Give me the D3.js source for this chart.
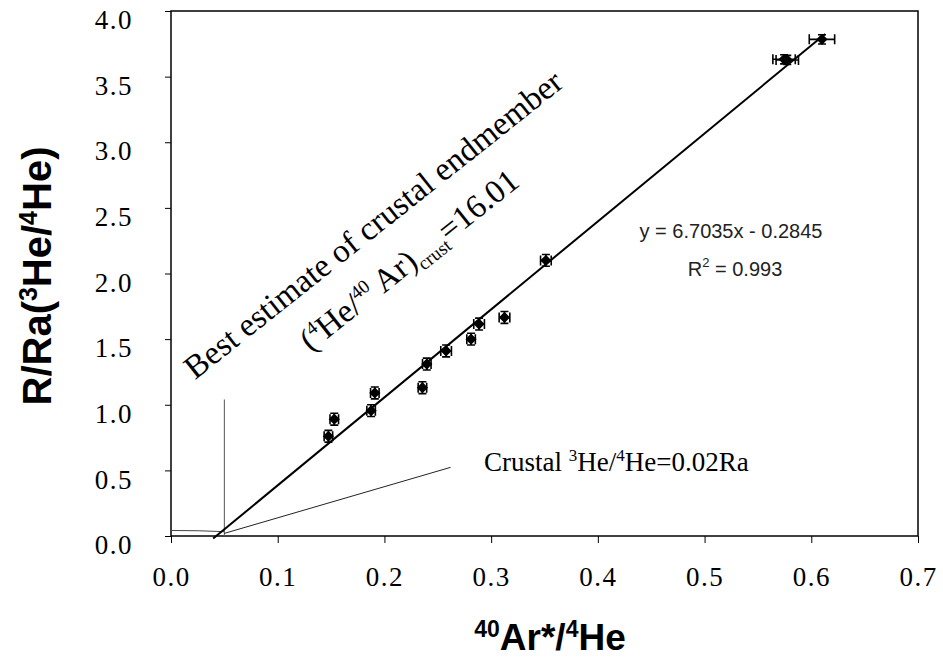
<!DOCTYPE html>
<html>
<head>
<meta charset="utf-8">
<script src="https://cdn.jsdelivr.net/npm/d3@7"></script>
<style>
  body { margin: 0; background: #fff; }
  svg { display: block; }
</style>
</head>
<body>
<svg id="chart"></svg>
<script>
// samples
const xVals = [0.1475, 0.153, 0.1875, 0.191, 0.2356, 0.2397, 0.2578, 0.2812, 0.2887, 0.3125, 0.3513, 0.5745, 0.5775, 0.610];
const yVals = [0.76, 0.89, 0.955, 1.09, 1.13, 1.31, 1.41, 1.50, 1.615, 1.665, 2.10, 3.632, 3.627, 3.784];
const xErr  = [0.004, 0.004, 0.004, 0.004, 0.004, 0.004, 0.005, 0.004, 0.005, 0.005, 0.005, 0.0105, 0.0105, 0.0119];
const yErr  = [0.045, 0.045, 0.045, 0.045, 0.045, 0.045, 0.045, 0.045, 0.045, 0.045, 0.045, 0.035, 0.035, 0.035];

const xTicks = [0, 0.1, 0.2, 0.3, 0.4, 0.5, 0.6, 0.7];
const yTicks = [0, 0.5, 1.0, 1.5, 2.0, 2.5, 3.0, 3.5, 4.0];

// fitted line y = 6.7035x - 0.2845, drawn between these x values
const fitSlope = 6.7035, fitIntercept = -0.2845;
const fitRange = [0.0395, 0.613];

// helper lines
const endmemberLine = [[0.05, 0], [0.05, 1.04]];
const leftLine = [[0, 0.042], [0.026, 0.04], [0.05, 0.033]];
const crustalLine = [[0.05, 0.02], [0.262, 0.523]];

const width = 943, height = 657;
const margin = {left: 171, right: 25, top: 11, bottom: 121};

const svg = d3.select("#chart").attr("width", width).attr("height", height);

const x = d3.scaleLinear().domain([0, 0.7]).range([margin.left, width - margin.right]);
const y = d3.scaleLinear().domain([0, 4]).range([height - margin.bottom, margin.top]);

// plot frame
svg.append("rect")
    .attr("x", x(0)).attr("y", y(4))
    .attr("width", x(0.7) - x(0)).attr("height", y(0) - y(4))
    .attr("fill", "none").attr("stroke", "#000").attr("stroke-width", 1.5);

const serif = "Liberation Serif, Times New Roman, serif";
const sans = "Liberation Sans, Arial, sans-serif";

const xAxis = svg.append("g")
    .attr("transform", `translate(0,${y(0)})`)
    .call(d3.axisBottom(x).tickValues(xTicks).tickFormat(d3.format(".1f")).tickSize(7).tickPadding(24));
xAxis.select(".domain").remove();
xAxis.selectAll("text")
    .attr("font-family", serif).attr("letter-spacing", 1.5)
    .attr("font-size", 27).attr("fill", "#000");

const yAxis = svg.append("g")
    .attr("transform", `translate(${x(0)},0)`)
    .call(d3.axisLeft(y).tickValues(yTicks).tickFormat(d3.format(".1f")).tickSize(6).tickPadding(32));
yAxis.select(".domain").remove();
yAxis.selectAll("text")
    .attr("y", 9).attr("letter-spacing", 1.5)
    .attr("font-family", serif)
    .attr("font-size", 27).attr("fill", "#000");

const line = d3.line().x(d => x(d[0])).y(d => y(d[1]));

svg.append("path").datum(endmemberLine).attr("d", line)
    .attr("fill", "none").attr("stroke", "#555").attr("stroke-width", 1);
svg.append("path").datum(leftLine).attr("d", line)
    .attr("fill", "none").attr("stroke", "#444").attr("stroke-width", 1);
svg.append("path").datum(crustalLine).attr("d", line)
    .attr("fill", "none").attr("stroke", "#222").attr("stroke-width", 1);

svg.append("path")
    .datum(fitRange.map(v => [v, fitSlope * v + fitIntercept]))
    .attr("d", line)
    .attr("fill", "none").attr("stroke", "#000").attr("stroke-width", 2);

// points with error bars
const pts = xVals.map((v, i) => ({x: v, y: yVals[i], ex: xErr[i], ey: yErr[i]}));
const pg = svg.append("g").attr("stroke", "#000").attr("stroke-width", 1.6);
pts.forEach(d => {
  const cx = x(d.x), cy = y(d.y);
  const x0 = x(d.x - d.ex), x1 = x(d.x + d.ex);
  const y0 = y(d.y - d.ey), y1 = y(d.y + d.ey);
  pg.append("path").attr("d", `M${x0},${cy}H${x1}M${x0},${cy - 5}V${cy + 5}M${x1},${cy - 5}V${cy + 5}`);
  pg.append("path").attr("d", `M${cx},${y0}V${y1}M${cx - 4},${y0}H${cx + 4}M${cx - 4},${y1}H${cx + 4}`);
});
svg.append("g").selectAll("path").data(pts).join("path")
    .attr("transform", d => `translate(${x(d.x)},${y(d.y)})`)
    .attr("d", d3.symbol(d3.symbolDiamond2, 80))
    .attr("fill", "#000");

// rotated annotation
const ann = svg.append("g")
    .attr("transform", "translate(380,233) rotate(-38.5)")
    .attr("font-family", serif)
    .attr("font-size", 33).attr("fill", "#000")
    .attr("text-anchor", "middle");
ann.append("text").text("Best estimate of crustal endmember");
const a2 = ann.append("text").attr("x", 6).attr("y", 50);
a2.append("tspan").text("(");
a2.append("tspan").attr("font-size", 19).attr("dy", -12).text("4");
a2.append("tspan").attr("dy", 12).text("He/");
a2.append("tspan").attr("font-size", 19).attr("dy", -12).text("40");
a2.append("tspan").attr("dy", 12).text(" Ar)");
a2.append("tspan").attr("font-size", 19).attr("dy", 7).text("crust");
a2.append("tspan").attr("dy", -7).text("=16.01");

// crustal label
const ct = svg.append("text")
    .attr("x", 484).attr("y", 471)
    .attr("font-family", serif)
    .attr("font-size", 27).attr("fill", "#000");
ct.append("tspan").text("Crustal ");
ct.append("tspan").attr("font-size", 17).attr("dy", -10).text("3");
ct.append("tspan").attr("dy", 10).text("He/");
ct.append("tspan").attr("font-size", 17).attr("dy", -10).text("4");
ct.append("tspan").attr("dy", 10).text("He=0.02Ra");

// regression equation
const eq = svg.append("g")
    .attr("font-family", sans)
    .attr("font-size", 20).attr("fill", "#222")
    .attr("text-anchor", "middle");
eq.append("text").attr("x", 731).attr("y", 238).text("y = 6.7035x - 0.2845");
const r2 = eq.append("text").attr("x", 735).attr("y", 276);
r2.append("tspan").text("R");
r2.append("tspan").attr("font-size", 13).attr("dy", -9).text("2");
r2.append("tspan").attr("dy", 9).text(" = 0.993");

// axis titles
const xt = svg.append("text")
    .attr("x", 550).attr("y", 650)
    .attr("text-anchor", "middle")
    .attr("font-family", sans)
    .attr("font-weight", "bold").attr("font-size", 37).attr("fill", "#000");
xt.append("tspan").attr("font-size", 23).attr("dy", -13).text("40");
xt.append("tspan").attr("dy", 13).text("Ar*/");
xt.append("tspan").attr("font-size", 23).attr("dy", -13).text("4");
xt.append("tspan").attr("dy", 13).text("He");

const yt = svg.append("text")
    .attr("transform", "translate(51,276) rotate(-90)")
    .attr("text-anchor", "middle")
    .attr("font-family", sans)
    .attr("font-weight", "bold").attr("font-size", 40).attr("fill", "#000");
yt.append("tspan").text("R/Ra(");
yt.append("tspan").attr("font-size", 25).attr("dy", -14).text("3");
yt.append("tspan").attr("dy", 14).text("He/");
yt.append("tspan").attr("font-size", 25).attr("dy", -14).text("4");
yt.append("tspan").attr("dy", 14).text("He)");
</script>
</body>
</html>
